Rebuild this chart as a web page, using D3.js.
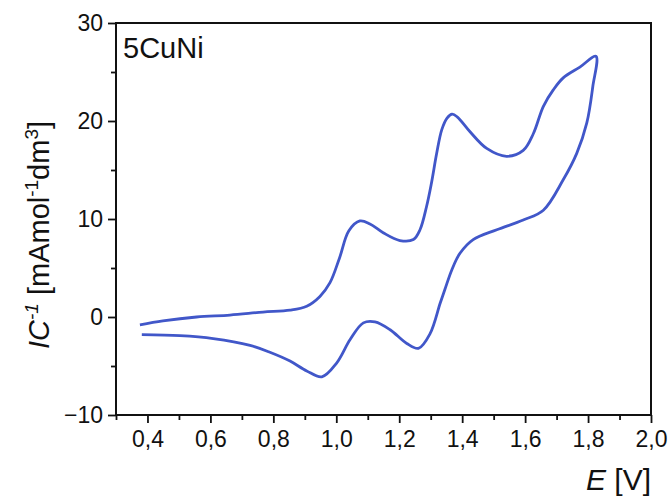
<!DOCTYPE html>
<html>
<head>
<meta charset="utf-8">
<script src="https://cdn.jsdelivr.net/npm/d3@7"></script>
<style>
  body { margin: 0; background: #fff; }
  text { font-family: "Liberation Sans", Arial, sans-serif; fill: #111; }
</style>
</head>
<body>
<svg width="672" height="500"></svg>
<script>
// cyclic voltammogram, forward scan then return scan
var potential = [0.376, 0.449, 0.556, 0.662, 0.767, 0.853, 0.906, 0.948, 0.980, 1.010,
  1.040, 1.075, 1.107, 1.149, 1.202, 1.245, 1.266, 1.287, 1.302, 1.319,
  1.335, 1.352, 1.368, 1.385, 1.425, 1.478, 1.541, 1.594, 1.626, 1.658,
  1.690, 1.721, 1.774, 1.825,
  1.815, 1.796, 1.764, 1.721, 1.658, 1.594, 1.510, 1.435, 1.393, 1.367,
  1.345, 1.330, 1.298, 1.261, 1.224, 1.171, 1.123, 1.086, 1.044, 1.001,
  0.954, 0.906, 0.853, 0.789, 0.726, 0.609, 0.503, 0.382];
var current = [-0.8, -0.4, 0.0, 0.2, 0.5, 0.7, 1.1, 2.1, 3.5, 6.0,
  8.8, 9.8, 9.5, 8.6, 7.8, 7.9, 8.9, 11.3, 13.6, 16.7,
  19.1, 20.3, 20.7, 20.4, 18.9, 17.2, 16.4, 17.0, 18.7, 21.5,
  23.2, 24.4, 25.5, 26.6,
  23.5, 19.8, 16.7, 14.0, 10.9, 9.9, 8.9, 7.9, 6.5, 4.8,
  2.8, 1.4, -1.7, -3.2, -2.7, -1.3, -0.5, -0.6, -2.3, -4.7,
  -6.1, -5.5, -4.5, -3.6, -2.9, -2.2, -1.9, -1.8];

var xTicks = [0.4, 0.6, 0.8, 1.0, 1.2, 1.4, 1.6, 1.8, 2.0];
var xMinor = [0.3, 0.5, 0.7, 0.9, 1.1, 1.3, 1.5, 1.7, 1.9];
var yTicks = [-10, 0, 10, 20, 30];
var yMinor = [-5, 5, 15, 25];

var svg = d3.select("svg");
var pLeft = 116, pRight = 651, pTop = 23, pBottom = 415;

var x = d3.scaleLinear().domain([0.3, 2.0]).range([pLeft, pRight]);
var y = d3.scaleLinear().domain([-10, 30]).range([pBottom, pTop]);

var fmt = function(d) { return d3.format(".1f")(d).replace(".", ","); };

// minor ticks first
svg.append("g")
  .attr("transform", "translate(0," + pBottom + ")")
  .call(d3.axisBottom(x).tickValues(xMinor).tickSize(5).tickFormat(""))
  .call(g => g.select(".domain").remove())
  .selectAll("line").attr("stroke", "#111").attr("stroke-width", 1.8);

svg.append("g")
  .attr("transform", "translate(" + pLeft + ",0)")
  .call(d3.axisLeft(y).tickValues(yMinor).tickSize(5).tickFormat(""))
  .call(g => g.select(".domain").remove())
  .selectAll("line").attr("stroke", "#111").attr("stroke-width", 1.8);

var xAxis = svg.append("g")
  .attr("transform", "translate(0," + pBottom + ")")
  .call(d3.axisBottom(x).tickValues(xTicks).tickSize(8).tickPadding(8).tickFormat(fmt));
xAxis.select(".domain").remove();
xAxis.selectAll("line").attr("stroke", "#111").attr("stroke-width", 1.8);
xAxis.selectAll("text").style("font-size", "23px")
  .style("font-family", "Liberation Sans, Arial, sans-serif").attr("fill", "#111");

var yAxis = svg.append("g")
  .attr("transform", "translate(" + pLeft + ",0)")
  .call(d3.axisLeft(y).tickValues(yTicks).tickSize(8).tickPadding(5));
yAxis.select(".domain").remove();
yAxis.selectAll("line").attr("stroke", "#111").attr("stroke-width", 1.8);
yAxis.selectAll("text").style("font-size", "23px")
  .style("font-family", "Liberation Sans, Arial, sans-serif").attr("fill", "#111");

// frame
svg.append("rect")
  .attr("x", pLeft).attr("y", pTop)
  .attr("width", pRight - pLeft).attr("height", pBottom - pTop)
  .attr("fill", "none").attr("stroke", "#111").attr("stroke-width", 2);

// curve
var line = d3.line()
  .x(function(d, i) { return x(potential[i]); })
  .y(function(d, i) { return y(current[i]); })
  .curve(d3.curveCatmullRom.alpha(0.5));

svg.append("path")
  .attr("d", line(potential))
  .attr("fill", "none")
  .attr("stroke", "#4157c9")
  .attr("stroke-width", 2.8)
  .attr("stroke-linejoin", "round");

// sample label
svg.append("text")
  .attr("x", 123).attr("y", 58)
  .style("font-size", "29px")
  .text("5CuNi");

// x title
var xt = svg.append("text")
  .attr("x", pRight).attr("y", 490)
  .attr("text-anchor", "end")
  .style("font-size", "30px");
xt.append("tspan").style("font-style", "italic").text("E");
xt.append("tspan").text(" [V]");

// y title
var yt = svg.append("text")
  .attr("transform", "translate(49,235) rotate(-90)")
  .attr("text-anchor", "middle")
  .style("font-size", "29px");
yt.append("tspan").style("font-style", "italic").text("IC");
yt.append("tspan").style("font-style", "italic").style("font-size", "19px").attr("dy", -11).text("-1");
yt.append("tspan").attr("dy", 11).text(" [mAmol");
yt.append("tspan").style("font-size", "19px").attr("dy", -11).text("-1");
yt.append("tspan").attr("dy", 11).text("dm");
yt.append("tspan").style("font-size", "19px").attr("dy", -11).text("3");
yt.append("tspan").attr("dy", 11).text("]");
</script>
</body>
</html>
